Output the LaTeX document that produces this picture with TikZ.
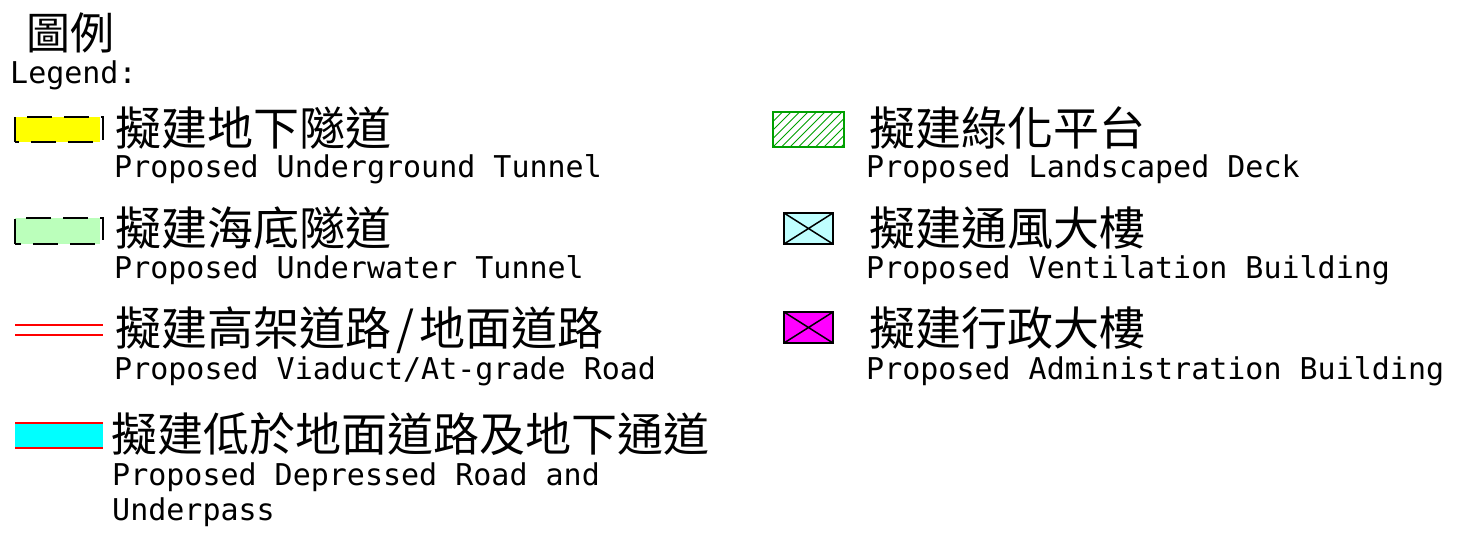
\documentclass[tikz,border=0pt]{standalone}
\usepackage{fontspec}
\setmonofont{DejaVu Sans Mono}
\newfontfamily\cjkfont{Noto Sans CJK TC}
\usepackage{tikz}

\definecolor{tunnelyellow}{RGB}{255,255,0}
\definecolor{seagreen}{RGB}{187,255,187}
\definecolor{roadcyan}{RGB}{0,255,255}
\definecolor{ventcyan}{RGB}{191,255,255}
\definecolor{adminmagenta}{RGB}{255,0,255}
\definecolor{deckgreen}{RGB}{0,160,0}

\tikzset{
  entext/.style={anchor=base west, inner sep=0pt,
    font=\ttfamily\fontsize{30}{35}\selectfont},
  zhtext/.style={anchor=base west, inner sep=0pt,
    font=\cjkfont\fontsize{46}{50}\selectfont},
  tunnelbox/.style={line width=2pt, dash pattern=on 25pt off 12pt},
  bldgbox/.style={draw=black, line width=2pt}
}

\begin{document}
\begin{tikzpicture}[x=1pt, y=-1pt]
          \fill [white] (0, 0) rectangle (1476, 539);
          \useasboundingbox (0, 0) rectangle (1476, 539);

          % Heading
          \node [zhtext, font=\cjkfont\fontsize{44}{48}\selectfont] (heading) at (26, 49) {圖例};
          \node [entext] (legend) at (10, 83) {Legend:};

          % Tunnels
          \fill [tunnelyellow] (15, 117) rectangle (100, 142);
          \draw [tunnelbox] (15, 142) rectangle (103, 117);
          \fill [seagreen] (15, 218) rectangle (100, 244);
          \draw [tunnelbox] (15, 244) rectangle (103, 218);

          % Roads
          \draw [red, line width=1.5pt] (15, 325) -- (103, 325);
          \draw [red, line width=1.5pt] (15, 335) -- (103, 335);
          \fill [roadcyan] (15, 423) rectangle (103, 448);
          \draw [red, line width=1.5pt] (15, 423) -- (103, 423);
          \draw [red, line width=1.5pt] (15, 448) -- (103, 448);

          % Landscaped deck
          \begin{scope}
            \clip (773, 112) rectangle (844, 147);
            \foreach \i in {-4,...,9}
              \draw [deckgreen, line width=1pt] (773+\i*8.5, 147) -- ++(35, -35);
          \end{scope}
          \draw [deckgreen, line width=2pt] (773, 112) rectangle (844, 147);

          % Buildings
          \fill [ventcyan] (784, 213) rectangle (833, 244);
          \draw [bldgbox] (784, 213) rectangle (833, 244);
          \draw [line width=1.5pt] (784, 213) -- (833, 244) (784, 244) -- (833, 213);
          \fill [adminmagenta] (784, 312) rectangle (833, 343);
          \draw [bldgbox] (784, 312) rectangle (833, 343);
          \draw [line width=1.5pt] (784, 312) -- (833, 343) (784, 343) -- (833, 312);

          % Left column texts
          \node [zhtext] (undgrdzh) at (115, 145) {擬建地下隧道};
          \node [entext] (undgrden) at (114, 177) {Proposed Underground Tunnel};
          \node [zhtext] (undwtrzh) at (115, 245) {擬建海底隧道};
          \node [entext] (undwtren) at (114, 278) {Proposed Underwater Tunnel};
          \node [zhtext] (viaductzh) at (115, 345) {擬建高架道路\kern5pt/\kern5pt 地面道路};
          \node [entext] (viaducten) at (114, 379) {Proposed Viaduct/At-grade Road};
          \node [zhtext] (deprszh) at (111, 451) {擬建低於地面道路及地下通道};
          \node [entext] (deprsen) at (112, 485) {Proposed Depressed Road and};
          \node [entext] (undpssen) at (112, 520) {Underpass};

          % Right column texts
          \node [zhtext] (deckzh) at (869, 145) {擬建綠化平台};
          \node [entext] (decken) at (866, 177) {Proposed Landscaped Deck};
          \node [zhtext] (ventzh) at (869, 245) {擬建通風大樓};
          \node [entext] (venten) at (866, 278) {Proposed Ventilation Building};
          \node [zhtext] (adminzh) at (869, 345) {擬建行政大樓};
          \node [entext] (adminen) at (866, 379) {Proposed Administration Building};
        \end{tikzpicture}
\end{document}
